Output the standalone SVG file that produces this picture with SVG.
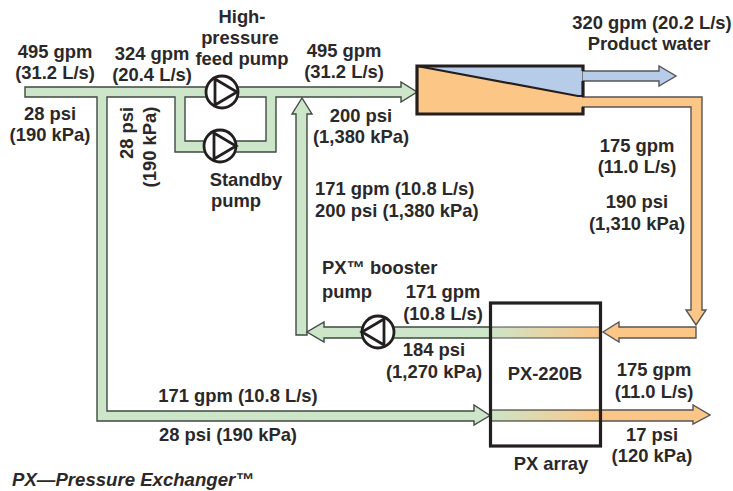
<svg xmlns="http://www.w3.org/2000/svg" width="733" height="491" viewBox="0 0 733 491">
<style>
text{font-family:"Liberation Sans",Arial,sans-serif;font-weight:700;font-size:18.4px;fill:#2b2829;text-anchor:middle}
.l{text-anchor:start}
.i{font-style:italic;font-size:18.600px}
.g{fill:#cde5c8;stroke:#3f4a42;stroke-width:1.4}
.o{fill:#fcc687;stroke:#555;stroke-width:1.4}
.b{fill:#b7cce9;stroke:#555;stroke-width:1.4}
.pump{fill:#fff;stroke:#231f20;stroke-width:2.8}
.box{fill:none;stroke:#231f20;stroke-width:3.2}
</style>
<defs>
<linearGradient id="go" x1="0" x2="1" y1="0" y2="0"><stop offset="0" stop-color="#cde5c8"/><stop offset="1" stop-color="#fcc687"/></linearGradient>
</defs>
<rect width="733" height="491" fill="#fff"/>
<g id="connectors">
<path class="g" d="M25 87H401V82L417 92L401 102V97H276V152H175V97H107V411H474V405L490 415.5L474 425V421H97V97H25ZM185 97V141H266V97Z" fill-rule="evenodd"/>
<path class="g" d="M296 335V114H292L302 98L312 114H307V335Z"/>
<path class="g" d="M490 327H324V322L307 332L324 342V338H490Z"/>
<path class="o" d="M582 97H702V310H706L696 325L686 310H691V107H582Z"/>
<path class="o" d="M696 327V338H619V342L603 332L619 322V327Z"/>
<rect x="490" y="327" width="110" height="11" fill="url(#go)" stroke="#4a4a4a" stroke-width="1"/>
<rect x="490" y="410" width="110" height="11" fill="url(#go)" stroke="#231f20" stroke-width="1"/>
<path class="o" d="M600 410H693V405L710 415L693 424V421H600Z"/>
<path class="b" d="M582 71H659V66L676 76L659 86V81H582Z"/>
</g>
<g id="membrane">
<path d="M417 66H582V114H417Z" fill="#fcc687"/>
<path d="M417 66H582V96Z" fill="#b7cce9"/>
<path d="M580 98H587V106H580Z" fill="#fcc687"/>
<path d="M417 66L578 96H582" fill="none" stroke="#231f20" stroke-width="2.2"/>
<path class="box" d="M583 71V66H417V114H583V107M583 81V97"/>
</g>
<g id="feed-pump"><circle class="pump" cx="222" cy="92" r="16"/><path class="pump" d="M215 79V105L237 92Z"/></g>
<g id="standby-pump"><circle class="pump" cx="220" cy="146" r="16"/><path class="pump" d="M214 133V159L236 146Z"/></g>
<g id="booster-pump"><circle class="pump" cx="378" cy="332" r="16"/><path class="pump" d="M384 319V345L362 332Z"/></g>
<g id="px-array"><rect class="box" x="490.500" y="303" width="110" height="143"/></g>
<g id="labels">
<text x="55" y="58">495 gpm</text><text x="55" y="79">(31.2 L/s)</text>
<text x="152" y="60">324 gpm</text><text x="152" y="81">(20.4 L/s)</text>
<text x="242" y="23">High-</text><text x="240" y="44">pressure</text><text x="242" y="65">feed pump</text>
<text x="50" y="120">28 psi</text><text x="50" y="141">(190 kPa)</text>
<text transform="translate(133 133) rotate(-90)">28 psi</text>
<text transform="translate(156 147) rotate(-90)">(190 kPa)</text>
<text x="246" y="186">Standby</text><text x="236" y="207">pump</text>
<text x="344" y="57">495 gpm</text><text x="344" y="78">(31.2 L/s)</text>
<text x="652" y="29">320 gpm (20.2 L/s)</text><text x="649" y="50">Product water</text>
<text x="361" y="122">200 psi</text><text x="361" y="143">(1,380 kPa)</text>
<text x="637" y="152">175 gpm</text><text x="637" y="173">(11.0 L/s)</text>
<text x="637" y="208">190 psi</text><text x="637" y="230">(1,310 kPa)</text>
<text class="l" x="315" y="195">171 gpm (10.8 L/s)</text><text class="l" x="315" y="217">200 psi (1,380 kPa)</text>
<text class="l" x="322" y="274">PX™ booster</text><text class="l" x="322" y="298">pump</text>
<text x="443" y="298">171 gpm</text><text x="443" y="320">(10.8 L/s)</text>
<text x="434" y="356">184 psi</text><text x="434" y="378">(1,270 kPa)</text>
<text x="545" y="380">PX-220B</text>
<text x="654" y="376">175 gpm</text><text x="654" y="398">(11.0 L/s)</text>
<text x="652" y="441">17 psi</text><text x="652" y="462">(120 kPa)</text>
<text x="551" y="470">PX array</text>
<text x="238" y="402">171 gpm (10.8 L/s)</text><text x="228" y="441">28 psi (190 kPa)</text>
<text class="l i" x="12" y="486">PX—Pressure Exchanger™</text>
</g>
</svg>
